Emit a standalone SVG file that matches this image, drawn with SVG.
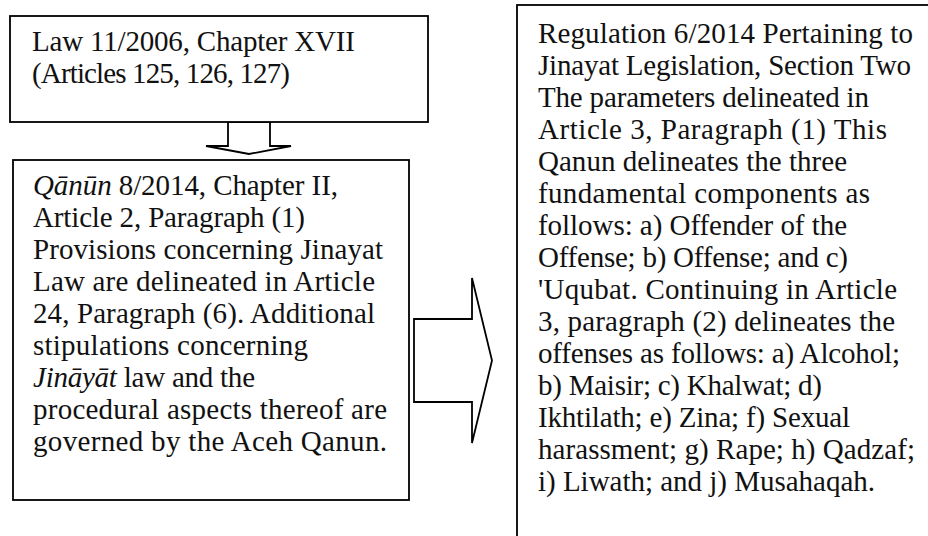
<svg xmlns="http://www.w3.org/2000/svg" width="928" height="536" viewBox="0 0 928 536">
<style>
.box{fill:#fff;stroke:#000;stroke-width:1.8}
.arr{fill:#fff;stroke:#000;stroke-width:1.8;stroke-linejoin:miter}
text{font-family:"Liberation Serif","Times New Roman",serif;font-size:29px;fill:#111}
.i{font-style:italic}
</style>
<rect width="928" height="536" fill="#fff"/>
<g id="connectors">
<polygon class="arr" points="228,122 228,146 206,146 249,154 291,146 270,146 270,122"/>
<polygon class="arr" points="414,319 472,319 472,278 492,360.5 472,443 472,402 414,402"/>
</g>
<g id="law-11-2006">
<rect class="box" x="10" y="16" width="418" height="106"/>
<text x="32" y="51" textLength="323">Law 11/2006, Chapter XVII</text>
<text x="32" y="83" textLength="258">(Articles 125, 126, 127)</text>
</g>
<g id="qanun-8-2014">
<rect class="box" x="13" y="160" width="396" height="340"/>
<text x="33" y="195" textLength="305"><tspan class="i">Qānūn</tspan> 8/2014, Chapter II,</text>
<text x="33" y="227" textLength="272">Article 2, Paragraph (1)</text>
<text x="33" y="259" textLength="350">Provisions concerning Jinayat</text>
<text x="33" y="291" textLength="342">Law are delineated in Article</text>
<text x="33" y="323" textLength="342">24, Paragraph (6). Additional</text>
<text x="33" y="355" textLength="275">stipulations concerning</text>
<text x="33" y="387" textLength="222"><tspan class="i">Jināyāt</tspan> law and the</text>
<text x="33" y="419" textLength="354">procedural aspects thereof are</text>
<text x="33" y="451" textLength="354">governed by the Aceh Qanun.</text>
</g>
<g id="regulation-6-2014">
<rect class="box" x="517" y="5" width="420" height="545"/>
<text x="538" y="43" textLength="375">Regulation 6/2014 Pertaining to</text>
<text x="538" y="75" textLength="373">Jinayat Legislation, Section Two</text>
<text x="538" y="107" textLength="331">The parameters delineated in</text>
<text x="538" y="139" textLength="349">Article 3, Paragraph (1) This</text>
<text x="538" y="171" textLength="309">Qanun delineates the three</text>
<text x="538" y="203" textLength="332">fundamental components as</text>
<text x="538" y="235" textLength="309">follows: a) Offender of the</text>
<text x="538" y="267" textLength="310">Offense; b) Offense; and c)</text>
<text x="538" y="299" textLength="359">'Uqubat. Continuing in Article</text>
<text x="538" y="331" textLength="357">3, paragraph (2) delineates the</text>
<text x="538" y="363" textLength="362">offenses as follows: a) Alcohol;</text>
<text x="538" y="395" textLength="284">b) Maisir; c) Khalwat; d)</text>
<text x="538" y="427" textLength="312">Ikhtilath; e) Zina; f) Sexual</text>
<text x="538" y="459" textLength="377">harassment; g) Rape; h) Qadzaf;</text>
<text x="538" y="491" textLength="337">i) Liwath; and j) Musahaqah.</text>
</g>
</svg>
